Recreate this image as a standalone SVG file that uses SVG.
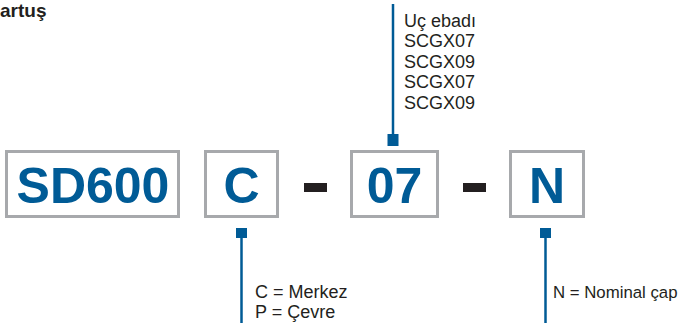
<svg xmlns="http://www.w3.org/2000/svg" width="683" height="327" viewBox="0 0 683 327">
<style>
.box{fill:#fff;stroke:#a7a9ac;stroke-width:3}
.code{font-family:"Liberation Sans",Arial,sans-serif;font-weight:bold;font-size:50px;fill:#005b96;text-anchor:middle}
.lbl{font-family:"Liberation Sans",Arial,sans-serif;font-size:18px;fill:#231f20}
.ttl{font-family:"Liberation Sans",Arial,sans-serif;font-weight:bold;font-size:19px;fill:#231f20}
.ln{stroke:#005b96;stroke-width:2.5;fill:none}
.sq{fill:#005b96}
.dash{fill:#231f20}
</style>
<rect width="683" height="327" fill="#fff"/>
<text class="ttl" x="0" y="17">artuş</text>
<g id="node-sd600">
<rect class="box" x="6.5" y="151.5" width="172" height="65"/>
<text class="code" x="93" y="203">SD600</text>
</g>
<g id="node-c">
<rect class="box" x="205.5" y="151.5" width="72" height="65"/>
<text class="code" x="241.5" y="203">C</text>
</g>
<g id="dash1"><rect class="dash" x="304" y="183" width="23" height="9"/></g>
<g id="node-07">
<rect class="box" x="351.5" y="151.5" width="86" height="65"/>
<text class="code" x="394.5" y="203">07</text>
</g>
<g id="dash2"><rect class="dash" x="463" y="183" width="23" height="9"/></g>
<g id="node-n">
<rect class="box" x="510.5" y="151.5" width="73" height="65"/>
<text class="code" x="547" y="203">N</text>
</g>
<g id="connectors">
<line class="ln" x1="393" y1="4" x2="393" y2="140"/>
<rect class="sq" x="387.5" y="134" width="11" height="12"/>
<line class="ln" x1="241.5" y1="233" x2="241.5" y2="323"/>
<rect class="sq" x="236" y="228" width="11" height="10"/>
<line class="ln" x1="545.5" y1="233" x2="545.5" y2="323"/>
<rect class="sq" x="540" y="228" width="11" height="10"/>
</g>
<g id="label-top">
<text class="lbl" x="404" y="26.5">Uç ebadı</text>
<text class="lbl" x="404" y="47">SCGX07</text>
<text class="lbl" x="404" y="67.5">SCGX09</text>
<text class="lbl" x="404" y="88">SCGX07</text>
<text class="lbl" x="404" y="108.5">SCGX09</text>
</g>
<g id="label-c">
<text class="lbl" x="255" y="298">C = Merkez</text>
<text class="lbl" x="255" y="318">P = Çevre</text>
</g>
<g id="label-n">
<text class="lbl" x="553" y="298" style="font-size:16.8px">N = Nominal çap</text>
</g>
</svg>
